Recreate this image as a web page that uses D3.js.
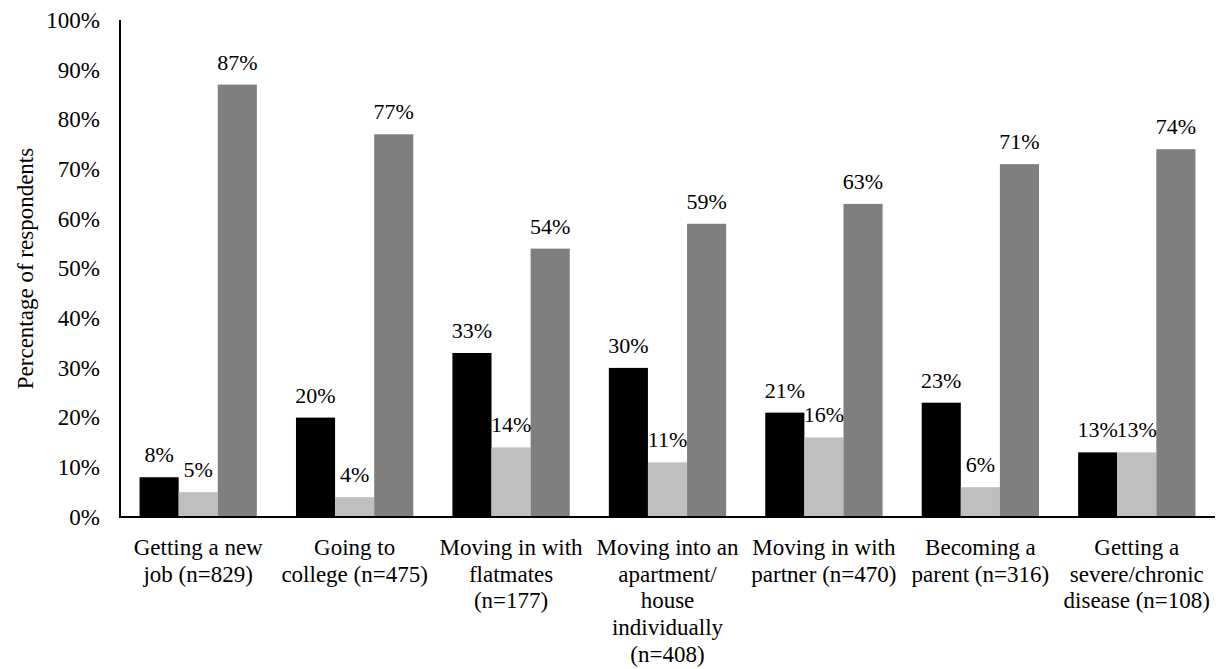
<!DOCTYPE html>
<html>
<head>
<meta charset="utf-8">
<script src="https://cdn.jsdelivr.net/npm/d3@7"></script>
<style>
  body { margin: 0; background: #fff; }
</style>
</head>
<body>
<svg width="1225" height="669" font-family="Liberation Serif"></svg>
<script>
// categories, one line per array entry
const categories = [
  ['Getting a new', 'job (n=829)'],
  ['Going to', 'college (n=475)'],
  ['Moving in with', 'flatmates', '(n=177)'],
  ['Moving into an', 'apartment/', 'house', 'individually', '(n=408)'],
  ['Moving in with', 'partner (n=470)'],
  ['Becoming a', 'parent (n=316)'],
  ['Getting a', 'severe/chronic', 'disease (n=108)']
];
const seriesA = [8, 20, 33, 30, 21, 23, 13];
const seriesB = [5, 4, 14, 11, 16, 6, 13];
const seriesC = [87, 77, 54, 59, 63, 71, 74];
const yTicks = [0, 10, 20, 30, 40, 50, 60, 70, 80, 90, 100];
const colors = ['#000000', '#bfbfbf', '#7f7f7f'];
const FONT = 'Liberation Serif';

const svg = d3.select('svg');
const plotL = 120, plotR = 1215, plotT = 20, plotB = 517;

const x = d3.scaleBand()
  .domain(d3.range(categories.length))
  .range([plotL, plotR])
  .paddingInner(0.25)
  .paddingOuter(0.125);

const xs = d3.scaleBand()
  .domain([0, 1, 2])
  .range([0, x.bandwidth()]);

const y = d3.scaleLinear().domain([0, 100]).range([plotB, plotT]);

// y tick labels
const yAxis = svg.append('g')
  .attr('transform', 'translate(' + plotL + ',0)')
  .call(d3.axisLeft(y).tickValues(yTicks).tickSize(0).tickPadding(20).tickFormat(d => d + '%'));
yAxis.attr('font-family', FONT).attr('font-size', 23);
yAxis.select('.domain').remove();
yAxis.selectAll('text').attr('fill', '#000');

svg.append('text')
  .attr('transform', 'translate(33,' + ((plotT + plotB) / 2) + ') rotate(-90)')
  .attr('text-anchor', 'middle')
  .attr('font-family', FONT)
  .attr('font-size', 23)
  .text('Percentage of respondents');

const series = [seriesA, seriesB, seriesC];
const rows = categories.map((c, i) => series.map((s, k) => ({cat: i, k: k, v: s[i]}))).flat();

const groups = svg.append('g');
groups.selectAll('rect')
  .data(rows)
  .join('rect')
  .attr('x', d => x(d.cat) + xs(d.k))
  .attr('y', d => y(d.v))
  .attr('width', xs.bandwidth())
  .attr('height', d => plotB - y(d.v))
  .attr('fill', d => colors[d.k]);

groups.selectAll('text')
  .data(rows)
  .join('text')
  .attr('x', d => x(d.cat) + xs(d.k) + xs.bandwidth() / 2)
  .attr('y', d => y(d.v) - 15)
  .attr('text-anchor', 'middle')
  .attr('font-family', FONT)
  .attr('font-size', 22)
  .text(d => d.v + '%');

// axis lines
svg.append('line')
  .attr('x1', plotL).attr('x2', plotL)
  .attr('y1', plotT).attr('y2', plotB + 1)
  .attr('stroke', '#000').attr('stroke-width', 2);
svg.append('line')
  .attr('x1', plotL - 1).attr('x2', plotR)
  .attr('y1', plotB).attr('y2', plotB)
  .attr('stroke', '#000').attr('stroke-width', 2);

// category labels
const catLabels = svg.append('g');
categories.forEach((lines, i) => {
  const t = catLabels.append('text')
    .attr('text-anchor', 'middle')
    .attr('font-family', FONT)
    .attr('font-size', 23);
  lines.forEach((ln, j) => {
    t.append('tspan')
      .attr('x', x(i) + x.bandwidth() / 2)
      .attr('y', 555 + j * 26.7)
      .text(ln);
  });
});
</script>
</body>
</html>
